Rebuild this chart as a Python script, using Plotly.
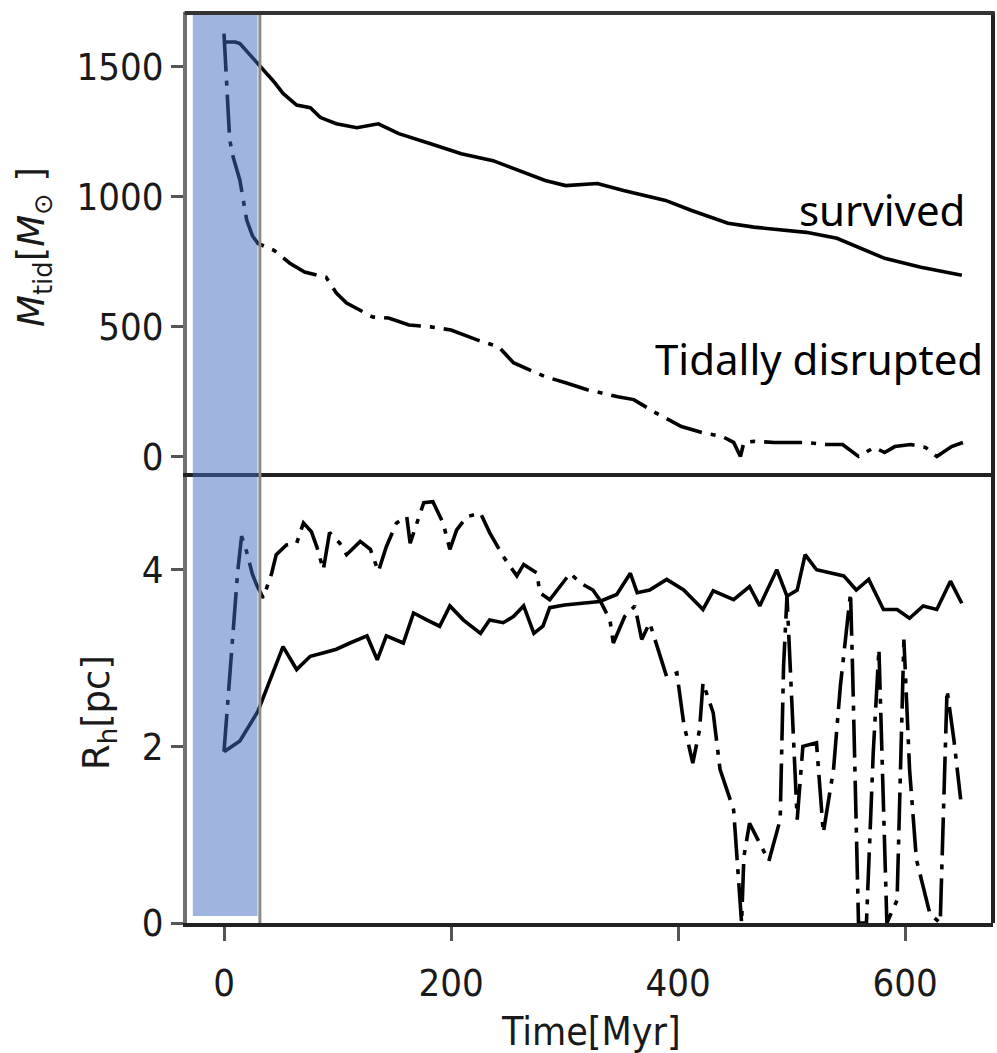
import plotly.graph_objects as go

# ---------------- data ----------------
# Top panel: tidal mass [M_sun]
t_surv_m = [0, 10, 14, 20, 29, 36, 44, 52, 64, 76, 85, 99, 117, 136, 154, 182, 209, 237, 260,
            283, 301, 329, 352, 389, 412, 444, 467, 513, 540, 559, 582, 614, 650]
m_surv = [1596, 1596, 1590, 1560, 1519, 1481, 1443, 1398, 1353, 1343, 1305, 1281, 1266, 1281,
          1243, 1204, 1166, 1139, 1101, 1063, 1043, 1051, 1024, 986, 947, 898, 883, 863, 840,
          806, 763, 729, 698]

t_dis_m = [0, 2.5, 5, 8, 14, 20, 25, 30, 44, 58, 71, 90, 99, 108, 131, 145, 163, 182, 200, 223,
           242, 255, 283, 301, 320, 347, 361, 380, 403, 421, 439, 449, 455, 458, 467, 485, 513,
           531, 545, 559, 573, 582, 591, 605, 618, 628, 641, 651]
m_dis = [1628, 1410, 1220, 1154, 1064, 910, 850, 820, 794, 744, 710, 690, 629, 591, 537, 533,
         506, 499, 487, 449, 422, 361, 307, 284, 257, 230, 219, 169, 115, 92, 77, 54, 0, 54, 58,
         54, 54, 46, 46, 0, 35, 15, 38, 46, 35, 0, 38, 54]

# Bottom panel: half-mass radius [pc]
t_surv_r = [0, 14, 30, 35, 52, 64, 76, 88, 99, 111, 126, 135, 143, 158, 167, 179, 190, 199, 211,
            226, 234, 246, 255, 264, 273, 281, 287, 300, 315, 331, 346, 358, 364, 375, 390, 405,
            422, 431, 449, 463, 472, 487, 496, 505, 512, 522, 546, 557, 568, 581, 593, 604, 616,
            628, 640, 650]
r_surv = [1.94, 2.06, 2.40, 2.57, 3.13, 2.87, 3.02, 3.06, 3.10, 3.17, 3.25, 2.98, 3.25, 3.17,
          3.51, 3.43, 3.36, 3.59, 3.43, 3.28, 3.43, 3.40, 3.47, 3.59, 3.28, 3.36, 3.57, 3.60,
          3.62, 3.64, 3.72, 3.96, 3.74, 3.77, 3.89, 3.77, 3.55, 3.76, 3.66, 3.81, 3.59, 4.00,
          3.70, 3.77, 4.17, 4.00, 3.93, 3.77, 3.89, 3.55, 3.55, 3.45, 3.59, 3.55, 3.87, 3.62]

t_dis_r = [0, 4, 8, 12, 15.5, 20, 25, 29, 34.6, 42, 46, 55, 64, 70, 77, 82, 87.5, 93, 102, 108,
           120, 129, 136, 143, 152, 161, 164, 176, 184, 193, 199, 205, 214, 226, 234, 246, 252,
           258, 264, 276, 278, 287, 296, 305, 314, 325, 331, 340, 343, 353, 362, 368, 375, 390,
           399, 405, 413, 419, 422, 431, 437, 449, 456, 458, 463, 480, 490, 493, 496, 499, 505,
           510, 522, 528, 537, 543, 549, 552, 554, 559, 566, 572, 577, 580, 584, 593, 599, 604,
           610, 622, 631, 637, 643, 649]
r_dis = [1.94, 2.60, 3.36, 3.97, 4.38, 4.20, 3.95, 3.82, 3.68, 3.96, 4.17, 4.28, 4.30, 4.53,
         4.43, 4.25, 4.00, 4.42, 4.30, 4.17, 4.32, 4.23, 3.98, 4.26, 4.53, 4.60, 4.30, 4.76,
         4.77, 4.53, 4.23, 4.45, 4.60, 4.64, 4.42, 4.15, 4.04, 3.93, 4.06, 3.96, 3.74, 3.66,
         3.81, 3.96, 3.85, 3.77, 3.66, 3.43, 3.17, 3.47, 3.59, 3.21, 3.40, 2.79, 2.83, 2.26,
         1.81, 2.19, 2.72, 2.38, 1.74, 1.28, 0.0, 0.75, 1.13, 0.70, 1.17, 2.91, 3.70, 2.91,
         1.17, 2.00, 2.04, 1.02, 1.74, 2.68, 3.36, 3.74, 2.76, 0.0, 0.0, 1.93, 3.10, 1.70, 0.0,
         0.26, 3.21, 1.74, 0.72, 0.10, 0.0, 2.64, 2.08, 1.40]

x_ticks = [0, 200, 400, 600]
m_ticks = [0, 500, 1000, 1500]
r_ticks = [0, 2, 4]
shade_span = [-27.5, 29.6]

# ---------------- figure ----------------
LW = 3.6
DASHDOT = "38px,9px,5px,9px"
TICKFONT = dict(family="DejaVu Sans Condensed, DejaVu Sans", size=38, color="#1a1a1a")

fig = go.Figure()
fig.add_trace(go.Scatter(x=t_surv_m, y=m_surv, mode="lines", xaxis="x", yaxis="y",
                         line=dict(color="black", width=LW), showlegend=False))
fig.add_trace(go.Scatter(x=t_dis_m, y=m_dis, mode="lines", xaxis="x", yaxis="y",
                         line=dict(color="black", width=LW, dash=DASHDOT), showlegend=False))
fig.add_trace(go.Scatter(x=t_surv_r, y=r_surv, mode="lines", xaxis="x2", yaxis="y2",
                         line=dict(color="black", width=LW), showlegend=False))
fig.add_trace(go.Scatter(x=t_dis_r, y=r_dis, mode="lines", xaxis="x2", yaxis="y2",
                         line=dict(color="black", width=LW, dash=DASHDOT), showlegend=False))

split = 0.4896
xr = [-32.6, 677.5]
fig.update_layout(
    width=997, height=1053,
    margin=dict(l=187, r=4, t=12, b=130),
    paper_bgcolor="white", plot_bgcolor="white",
    xaxis=dict(domain=[0, 1], anchor="y", range=xr, showticklabels=False, ticks="",
               showgrid=False, zeroline=False, showline=False),
    yaxis=dict(domain=[split, 1], anchor="x", range=[-79, 1711.5], tickvals=m_ticks,
               ticks="outside", ticklen=12, tickwidth=3, tickcolor="#555555",
               tickfont=TICKFONT, showgrid=False, zeroline=False, showline=True,
               linecolor="#707070", linewidth=4),
    xaxis2=dict(domain=[0, 1], anchor="y2", range=xr, matches="x", tickvals=x_ticks,
                ticks="outside", ticklen=14, tickwidth=3, tickcolor="#555555",
                ticklabelstandoff=9,
                tickfont=TICKFONT, showgrid=False, zeroline=False, showline=True, mirror=True,
                linecolor="#222222", linewidth=4),
    yaxis2=dict(domain=[0, split], anchor="x2", range=[0, 5.05], tickvals=r_ticks,
                ticks="outside", ticklen=12, tickwidth=3, tickcolor="#555555",
                tickfont=TICKFONT, showgrid=False, zeroline=False, showline=True,
                linecolor="#707070", linewidth=4),
)

shade = "rgba(63,107,194,0.5)"
fig.add_shape(type="rect", xref="x", yref="y domain", x0=shade_span[0], x1=shade_span[1],
              y0=0, y1=1, fillcolor=shade, line=dict(width=0), layer="above")
fig.add_shape(type="rect", xref="x2", yref="y2", x0=shade_span[0], x1=shade_span[1],
              y0=0.08, y1=5.05, fillcolor=shade, line=dict(width=0), layer="above")
fig.add_shape(type="line", xref="x", yref="paper", x0=31.6, x1=31.6, y0=0, y1=1,
              line=dict(color="#8c8c8c", width=3), layer="above")
# right and top frame lines
fig.add_shape(type="line", xref="paper", yref="paper", x0=1, x1=1, y0=0, y1=1,
              line=dict(color="#222222", width=4), layer="above")
fig.add_shape(type="line", xref="paper", yref="paper", x0=-0.003, x1=1.002, y0=0.999, y1=0.999,
              line=dict(color="#333333", width=4), layer="above")

LABELFONT = dict(family="Noto Sans, DejaVu Sans", size=42, color="black")
fig.add_annotation(x=654.6, y=952, xref="x", yref="y", text="survived", showarrow=False,
                   xanchor="right", yanchor="middle", font=LABELFONT)
fig.add_annotation(x=670.5, y=376, xref="x", yref="y", text="Tidally disrupted",
                   showarrow=False, xanchor="right", yanchor="middle", font=LABELFONT)

TITLEFONT = dict(family="DejaVu Sans", size=37, color="#1a1a1a")
fig.add_annotation(x=(34 - 187) / 806, y=(923 - 247) / 911, xref="paper", yref="paper",
                   text="<i>M</i><sub>tid</sub>[<i>M</i><sub>⊙</sub> ]", textangle=-90,
                   showarrow=False, xanchor="center", yanchor="middle", font=TITLEFONT)
fig.add_annotation(x=(99 - 187) / 806, y=(923 - 713) / 911, xref="paper", yref="paper",
                   text="R<sub>h</sub>[pc]", textangle=-90,
                   showarrow=False, xanchor="center", yanchor="middle", font=TITLEFONT)
fig.add_annotation(x=(591 - 187) / 806, y=(923 - 1031) / 911, xref="paper", yref="paper",
                   text="Time[Myr]", showarrow=False, xanchor="center", yanchor="middle",
                   font=dict(family="DejaVu Sans Condensed, DejaVu Sans", size=39,
                             color="#1a1a1a"))

fig.write_html("out.html")
